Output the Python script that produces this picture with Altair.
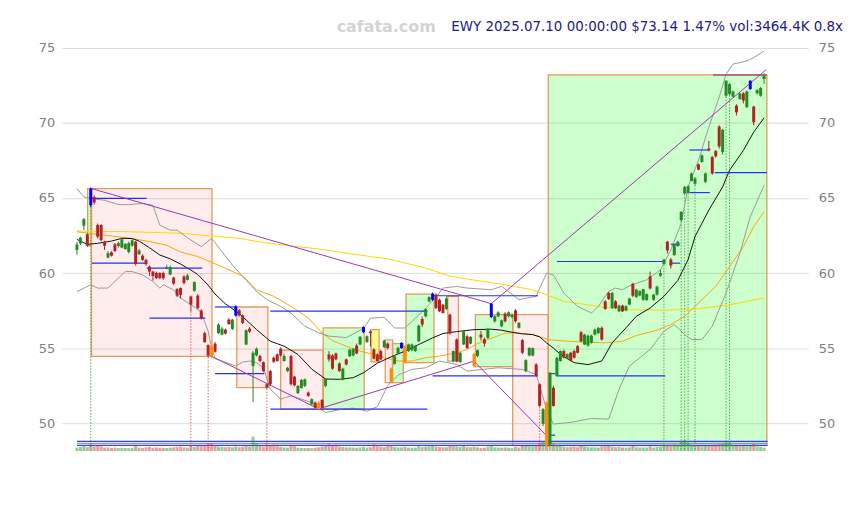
import altair as alt
import pandas as pd

# ---------------- data ----------------
opens = [
    61.54, 61.98, 63.15, 62.58, 64.52, 65.07, 63.20, 63.20, 62.09, 61.03,
    61.38, 61.91, 61.80, 61.70, 61.60, 61.40, 61.82, 62.09, 61.25, 61.16,
    60.88, 60.43, 60.10, 60.00, 60.00, 60.00, 60.30, 59.90, 59.70, 58.93,
    59.00, 59.77, 59.55, 58.44, 58.82, 58.50, 57.50, 56.00, 55.20, 55.13,
    55.30, 56.00, 55.90, 56.23, 56.90, 56.28, 57.17, 57.52, 57.17, 55.24,
    56.30, 53.81, 54.51, 54.47, 54.07, 52.59, 53.47, 54.36, 54.58, 54.96,
    54.14, 53.47, 54.47, 53.10, 52.00, 52.35, 52.48, 52.04, 51.26, 51.37,
    51.37, 51.55, 52.48, 54.58, 54.51, 54.64, 53.98, 52.90, 54.25, 54.47,
    54.51, 55.17, 55.24, 56.06, 55.40, 56.10, 54.91, 54.58, 54.80, 55.05,
    55.30, 53.65, 53.95, 54.64, 55.00, 55.13, 54.80, 54.86, 54.80, 55.46,
    56.94, 57.12, 58.11, 58.22, 58.56, 58.22, 57.89, 57.60, 57.23, 54.13,
    55.57, 54.07, 55.24, 55.79, 55.30, 54.60, 54.47, 55.90, 55.60, 55.68,
    57.07, 56.79, 57.12, 56.46, 57.30, 57.12, 57.07, 57.51, 56.35, 55.53,
    53.47, 54.51, 54.50, 53.91, 52.59, 49.95, 51.37, 48.60, 52.36, 53.14,
    54.14, 54.80, 54.30, 54.69, 54.80, 55.13, 56.06, 55.24, 55.17, 55.35,
    55.90, 56.00, 56.35, 58.11, 58.67, 57.67, 58.11, 57.45, 57.83, 57.50,
    57.90, 59.29, 58.40, 58.50, 58.22, 58.20, 59.77, 58.22, 58.56, 59.82,
    60.60, 62.09, 60.90, 61.20, 61.80, 63.53, 65.30, 65.34, 66.14, 65.95,
    67.24, 67.40, 66.07, 68.30, 67.73, 68.12, 69.76, 68.06, 71.82, 71.93,
    71.75, 71.16, 71.60, 71.97, 71.05, 72.26, 71.09, 71.97, 71.82, 72.93,
]
highs = [
    62.09, 62.42, 63.68, 62.65, 65.70, 65.18, 63.30, 63.25, 62.15, 61.45,
    61.45, 62.00, 62.10, 62.35, 62.00, 62.10, 62.25, 62.15, 61.60, 61.25,
    60.95, 60.50, 60.15, 60.10, 60.05, 60.10, 60.55, 60.50, 59.75, 59.00,
    59.05, 59.85, 59.95, 58.50, 59.45, 58.60, 57.60, 56.10, 55.25, 55.20,
    55.40, 56.65, 56.40, 56.30, 57.00, 56.95, 57.85, 57.60, 57.25, 56.25,
    56.40, 54.80, 55.05, 54.55, 54.10, 52.65, 53.55, 54.45, 54.65, 55.05,
    54.60, 53.75, 54.55, 53.15, 52.55, 52.95, 52.98, 52.10, 51.65, 51.45,
    51.45, 51.60, 53.00, 54.80, 54.60, 54.70, 54.05, 53.70, 54.30, 54.95,
    55.00, 55.30, 55.80, 56.45, 55.85, 56.20, 55.00, 54.65, 54.90, 55.55,
    55.40, 53.70, 54.50, 55.10, 55.40, 55.20, 55.30, 55.30, 55.20, 56.55,
    57.10, 57.65, 58.45, 58.70, 58.65, 58.30, 57.95, 58.45, 57.30, 54.85,
    55.65, 54.75, 56.20, 55.90, 55.80, 54.70, 54.90, 56.15, 55.70, 56.35,
    58.00, 57.20, 57.45, 56.90, 57.40, 57.45, 57.30, 57.60, 56.75, 55.60,
    54.25, 55.05, 55.05, 54.00, 52.65, 51.00, 51.45, 53.40, 52.50, 54.40,
    54.85, 54.90, 54.65, 54.75, 54.90, 55.20, 56.15, 55.95, 55.90, 55.90,
    56.30, 56.40, 56.45, 58.20, 58.75, 58.75, 58.20, 57.90, 57.90, 57.85,
    58.35, 59.35, 58.95, 58.85, 58.95, 58.65, 60.10, 58.60, 59.15, 60.20,
    60.95, 62.15, 61.00, 61.90, 62.15, 64.10, 65.80, 65.85, 66.70, 66.40,
    67.30, 67.90, 66.70, 68.80, 67.80, 68.20, 69.85, 69.60, 72.85, 72.65,
    72.15, 71.25, 72.00, 72.05, 72.15, 72.85, 71.15, 72.25, 72.40, 73.30,
]
lows = [
    61.21, 61.87, 62.86, 61.75, 64.40, 64.56, 62.30, 62.10, 61.54, 60.98,
    61.10, 61.40, 61.70, 61.65, 61.55, 61.30, 61.75, 60.50, 61.20, 60.80,
    60.50, 59.80, 59.50, 59.60, 59.60, 59.55, 60.25, 59.85, 59.20, 58.40,
    58.30, 59.25, 59.50, 57.45, 58.75, 57.60, 56.90, 55.35, 54.40, 54.35,
    54.70, 55.95, 55.85, 55.90, 56.55, 56.20, 57.10, 57.10, 56.60, 55.20,
    56.00, 51.40, 54.45, 54.05, 53.40, 52.30, 52.50, 54.00, 54.10, 54.45,
    54.10, 53.40, 52.50, 52.45, 51.95, 52.30, 52.40, 51.75, 51.20, 51.00,
    50.85, 50.98, 52.40, 54.10, 53.55, 54.20, 53.40, 52.85, 53.85, 54.40,
    54.45, 54.60, 55.20, 56.00, 55.35, 55.10, 54.25, 54.10, 54.20, 55.00,
    54.90, 52.70, 53.90, 54.60, 54.95, 53.95, 54.75, 54.80, 54.75, 55.40,
    56.40, 57.05, 58.05, 58.15, 57.60, 57.40, 57.30, 57.55, 55.90, 54.05,
    54.05, 54.00, 55.20, 54.95, 55.25, 53.70, 54.40, 55.50, 55.10, 55.60,
    57.00, 56.70, 57.05, 56.40, 56.70, 57.05, 57.00, 56.70, 56.30, 54.60,
    53.40, 54.45, 54.45, 53.10, 51.10, 49.80, 48.40, 48.50, 51.10, 53.10,
    54.10, 54.30, 54.25, 54.10, 54.30, 54.65, 55.40, 55.20, 55.10, 55.30,
    55.85, 55.95, 55.50, 57.55, 58.20, 57.60, 57.60, 57.40, 57.40, 57.45,
    57.85, 58.40, 58.35, 58.45, 58.15, 58.15, 58.90, 58.15, 58.50, 59.75,
    60.55, 61.30, 60.30, 61.15, 61.75, 63.45, 65.25, 65.30, 66.10, 65.85,
    66.85, 67.35, 66.00, 68.10, 66.55, 67.70, 68.30, 67.90, 71.75, 71.85,
    71.70, 70.50, 71.55, 71.30, 71.00, 72.20, 69.85, 71.90, 71.75, 72.60,
]
closes = [
    61.91, 62.35, 63.59, 61.82, 65.63, 64.70, 62.42, 62.20, 61.82, 61.32,
    61.16, 61.47, 62.00, 62.25, 61.93, 62.00, 62.18, 60.60, 61.50, 60.88,
    60.59, 60.10, 59.80, 59.66, 59.66, 59.66, 60.40, 60.40, 59.30, 58.50,
    58.55, 59.33, 59.84, 57.89, 59.40, 57.67, 56.97, 55.40, 54.50, 54.45,
    54.76, 56.56, 56.30, 55.97, 56.60, 56.90, 57.78, 57.17, 56.68, 56.19,
    56.10, 54.69, 54.96, 54.14, 53.47, 52.37, 52.59, 54.09, 54.14, 54.51,
    54.47, 53.69, 52.59, 52.52, 52.48, 52.88, 52.92, 51.82, 51.60, 51.04,
    50.93, 51.04, 52.96, 54.25, 53.63, 54.25, 53.47, 53.63, 53.91, 54.90,
    54.95, 54.64, 55.75, 56.41, 55.79, 56.00, 54.29, 54.14, 54.25, 55.50,
    55.00, 52.75, 54.45, 55.02, 55.35, 54.03, 55.24, 55.24, 55.13, 56.50,
    56.57, 57.60, 58.40, 58.62, 57.67, 57.45, 57.34, 58.30, 55.97, 54.80,
    54.13, 54.69, 56.12, 55.00, 55.75, 53.80, 54.86, 55.70, 55.30, 56.28,
    57.96, 57.12, 57.38, 56.85, 56.79, 57.38, 57.23, 56.79, 56.68, 54.69,
    54.20, 55.02, 55.00, 53.14, 51.15, 50.93, 48.50, 53.36, 51.15, 54.36,
    54.80, 54.36, 54.60, 54.14, 54.36, 54.69, 55.46, 55.90, 55.83, 55.83,
    56.24, 56.35, 55.57, 57.61, 58.27, 58.67, 57.67, 57.83, 57.45, 57.80,
    58.30, 58.49, 58.90, 58.80, 58.93, 58.60, 58.98, 58.56, 59.10, 60.00,
    60.90, 61.50, 60.50, 61.87, 62.09, 64.08, 65.74, 65.78, 66.63, 66.30,
    66.89, 67.84, 66.63, 68.20, 66.63, 67.78, 68.44, 69.54, 72.81, 72.59,
    72.10, 70.71, 71.97, 71.49, 72.10, 72.81, 70.05, 72.19, 72.33, 73.14,
]
volumes_k = [
    3500, 4200, 5800, 4000, 7000, 4500, 5200, 4800, 3600, 3800,
    3200, 3500, 3000, 3300, 3100, 2900, 3400, 5200, 3600, 3300,
    3800, 4200, 3500, 3700, 3400, 3300, 3100, 3600, 3900, 4300,
    4600, 3800, 3500, 5800, 4200, 5200, 4800, 6200, 6800, 7500,
    6000, 4500, 4200, 3900, 4100, 3800, 4500, 4000, 4400, 5500,
    4800, 14700, 8000, 5200, 4600, 7000, 5800, 6500, 4900, 4200,
    3800, 3600, 5500, 4800, 3500, 3200, 3100, 3300, 3000, 3400,
    3800, 4600, 5600, 7200, 5300, 6800, 4500, 4100, 3700, 3900,
    3600, 3400, 3800, 4200, 3500, 3900, 7000, 4800, 4400, 4000,
    6500, 5200, 4100, 3800, 3700, 4300, 3500, 3400, 3600, 5000,
    4200, 4600, 4800, 5200, 4500, 4200, 3900, 4000, 5800, 5000,
    4600, 4300, 5200, 4100, 3900, 4400, 3800, 3300, 3500, 4600,
    5200, 3800, 3600, 3400, 3700, 3500, 3300, 4200, 3600, 5600,
    5200, 4800, 4600, 5500, 8200, 9500, 10500, 11000, 7500, 6200,
    5000, 4200, 3800, 4100, 4300, 3900, 5200, 4400, 4000, 3700,
    3800, 3500, 4600, 4800, 5600, 4200, 3900, 4100, 3600, 3400,
    3800, 5200, 3900, 3600, 3700, 3500, 4800, 3600, 4200, 4400,
    6200, 5800, 4800, 6600, 5400, 10200, 11000, 8200, 6400, 5200,
    5600, 4800, 5200, 6000, 4900, 5100, 6800, 7800, 9000, 8400,
    6200, 5400, 4800, 5000, 4600, 5800, 7200, 4500, 4200, 3464.4,
]
pivot_high_idx = [4, 46, 83, 94, 103, 120, 195]
pivot_low_idx = [39, 70, 91, 95, 115, 136]

month_tick_idx = [7, 30, 50, 71, 91, 110, 131, 152, 173, 193]
month_tick_labels = ["10", "11", "12", "1", "2", "3", "4", "5", "6", "7"]
y_ticks = [50, 55, 60, 65, 70, 75]

ma20_idx = [0, 3, 6, 10, 13, 16, 18, 21, 24, 27, 30, 33, 35, 38, 40, 43, 47, 52, 56, 60,
            64, 68, 72, 76, 80, 83, 87, 91, 95, 99, 103, 106, 110, 115, 120, 123, 126, 129, 132, 134,
            136, 138, 140, 142, 144, 148, 152, 155, 159, 162, 166, 170, 174, 177, 179, 183, 187, 189, 193, 196, 199]
ma20_val = [62.24, 61.91, 61.98, 62.13, 62.31, 62.30, 62.13, 61.69, 61.20, 60.95, 60.60, 60.20, 59.90, 59.20, 58.60, 57.95, 57.30, 56.24, 55.46, 55.13,
            54.58, 53.60, 52.94, 52.92, 53.03, 53.36, 54.00, 54.42, 54.80, 55.24, 55.68, 55.97, 56.10, 56.23, 56.26, 56.19, 56.06, 55.95, 55.90, 55.75,
            55.35, 55.00, 54.60, 54.30, 54.03, 53.90, 54.14, 55.35, 56.35, 57.12, 57.67, 58.45, 59.50, 60.90, 62.43, 64.19, 65.74, 66.85, 68.17, 69.39, 70.34]
ma50_idx = [0, 6, 16, 21, 26, 30, 35, 43, 48, 52, 57, 62, 67, 71, 74, 78, 82, 86, 89, 93,
            97, 101, 105, 110, 113, 116, 119, 124, 128, 132, 137, 142, 147, 153, 158, 162, 168, 172, 176, 179,
            185, 189, 193, 196, 199]
ma50_val = [62.75, 62.58, 62.30, 62.10, 61.85, 61.40, 61.10, 60.32, 59.80, 58.89, 58.45, 57.78, 57.01, 56.00, 55.50, 55.13, 54.80, 54.58, 54.36, 54.14,
            54.14, 54.36, 54.47, 54.69, 54.91, 55.30, 55.57, 56.00, 56.00, 55.90, 55.55, 55.46, 55.40, 55.35, 55.46, 55.84, 56.19, 56.57, 57.12, 57.78,
            59.11, 60.43, 61.76, 63.09, 64.08]
ma200_idx = [0, 16, 30, 47, 55, 70, 85, 90, 100, 108, 113, 122, 132, 141, 151, 160, 170, 179, 189, 199]
ma200_val = [62.80, 62.75, 62.65, 62.31, 62.00, 61.60, 61.10, 60.95, 60.40, 59.80, 59.60, 59.29, 58.89, 58.12, 57.78, 57.56, 57.52, 57.60, 57.89, 58.34]
bbu_idx = [0, 2, 4, 8, 12, 15, 19, 22, 24, 27, 29, 32, 36, 39, 42, 45, 48, 52, 55, 59,
           62, 66, 70, 73, 78, 83, 85, 89, 92, 95, 99, 102, 104, 106, 110, 113, 120, 123, 128, 133,
           136, 138, 141, 145, 149, 151, 154, 156, 158, 160, 165, 169, 172, 175, 177, 180, 183, 186, 188, 190,
           194, 196, 199]
bbu_val = [65.63, 65.07, 64.96, 64.85, 64.56, 64.56, 64.63, 64.52, 63.19, 62.86, 62.86, 62.35, 61.76, 62.31, 61.43, 60.54, 59.77, 58.78, 58.23, 57.78,
           57.34, 56.46, 56.02, 55.80, 55.70, 56.30, 57.00, 57.05, 56.34, 56.34, 57.20, 57.90, 58.40, 59.00, 59.11, 59.00, 58.89, 59.11, 58.23, 58.45,
           59.99, 59.88, 58.67, 57.78, 57.34, 57.78, 58.78, 59.00, 58.89, 59.15, 59.55, 60.21, 61.54, 63.31, 65.74, 67.51, 69.72, 71.71, 73.26, 73.92,
           74.13, 74.35, 74.80]
bbl_idx = [0, 4, 6, 9, 12, 14, 16, 19, 22, 24, 25, 28, 30, 33, 36, 38, 39, 40, 42, 46,
           48, 50, 52, 54, 56, 59, 62, 65, 68, 70, 72, 76, 80, 84, 87, 90, 93, 97, 101, 105,
           110, 113, 122, 129, 133, 136, 138, 143, 149, 154, 157, 160, 166, 170, 173, 176, 178, 181, 184, 188,
           192, 195, 199]
bbl_val = [58.77, 59.22, 59.00, 59.00, 59.66, 60.10, 60.10, 59.88, 59.44, 59.00, 59.22, 58.88, 58.33, 57.90, 57.40, 56.12, 55.02, 54.30, 54.14, 53.80,
           54.07, 54.14, 54.03, 53.70, 52.26, 51.60, 51.82, 51.60, 51.37, 51.04, 50.71, 50.90, 51.00, 50.80, 51.10, 52.50, 53.20, 53.58, 53.69, 54.14,
           53.91, 53.47, 53.69, 53.58, 53.25, 50.93, 49.94, 50.05, 50.31, 50.27, 52.26, 53.80, 54.91, 56.12, 56.57, 55.90, 55.57, 55.57, 56.46, 58.67,
           61.32, 63.75, 65.85]

box_x1 = [3.1, 4.2, 46.3, 59.0, 71.3, 85.2, 89.3, 91.4, 95.3, 107.4, 115.4, 126.2, 136.5]
box_x2 = [4.2, 39.1, 55.3, 71.3, 83.2, 87.5, 91.4, 94.5, 103.4, 110.5, 126.2, 136.5, 199.8]
box_y1 = [61.82, 65.63, 57.74, 54.86, 50.93, 56.23, 55.55, 52.70, 54.03, 58.44, 53.76, 57.23, 48.50]
box_y2 = [65.63, 54.45, 52.37, 50.93, 56.35, 54.08, 52.70, 55.30, 58.60, 54.13, 57.23, 48.50, 73.20]
box_kind = ["up", "down", "down", "down", "up", "flat", "down", "up", "up", "down", "up", "down", "up"]

level_x1 = [4.3, 4.3, 20.2, 21.0, 40.0, 40.0, 56.0, 56.0, 103.0, 103.0, 137.0, 137.0, 139.0, 139.0, 172.0, 172.0, 177.4, 177.4, 184.7]
level_x2 = [20.2, 20.2, 36.3, 37.2, 46.2, 54.3, 101.5, 101.5, 133.5, 133.5, 138.5, 138.5, 170.4, 170.4, 174.7, 174.7, 183.3, 183.3, 199.8]
level_y = [64.97, 60.66, 60.33, 57.00, 57.74, 53.30, 57.47, 50.93, 58.49, 53.15, 53.30, 49.20, 53.15, 60.77, 61.92, 60.66, 65.36, 68.20, 66.69]
top_level = {"x1": 184.2, "x2": 199.8, "y": 73.20}

trend_x1 = [4.2, 39.0, 70.0, 115.0, 120.0]
trend_y1 = [65.63, 54.45, 50.95, 54.13, 57.96]
trend_x2 = [120.0, 70.0, 115.0, 136.5, 199.6]
trend_y2 = [57.96, 50.95, 54.13, 49.05, 73.55]

signal_up_idx = [4, 170, 175, 176, 177, 179, 188, 189]
signal_down_idx = [33, 38, 55, 134]

vol_base = 48.14
vol_ref_blue = [48.79, 48.52]
vol_ref_gray = [48.65]

TITLE = "EWY 2025.07.10 00:00:00 $73.14 1.47% vol:3464.4K 0.8x"
WATERMARK = "cafata.com"

# ---------------- tables ----------------
n = min(len(opens), len(highs), len(lows), len(closes), len(volumes_k))
idx = list(range(n))
hi_set, lo_set = set(pivot_high_idx), set(pivot_low_idx)
kind, direction = [], []
for k in idx:
    d = "up" if closes[k] >= opens[k] else "down"
    direction.append(d)
    kind.append("hi" if k in hi_set else ("lo" if k in lo_set else d))
candles = pd.DataFrame({"i": idx, "o": opens[:n], "h": highs[:n], "l": lows[:n],
                        "c": closes[:n], "v": volumes_k[:n], "kind": kind, "dir": direction})

lines_rows = []
for name, xs_, vs_ in [("ma200", ma200_idx, ma200_val), ("ma50", ma50_idx, ma50_val),
                       ("bbu", bbu_idx, bbu_val), ("bbl", bbl_idx, bbl_val),
                       ("ma20", ma20_idx, ma20_val)]:
    for a, b in zip(xs_, vs_):
        lines_rows.append({"s": name, "i": a, "v": b})
lines_df = pd.DataFrame(lines_rows)

boxes = pd.DataFrame({"x1": box_x1, "x2": box_x2, "y1": box_y1, "y2": box_y2, "kind": box_kind})
levels = pd.DataFrame({"x1": level_x1, "x2": level_x2, "y": level_y})
trends = pd.DataFrame({"x1": trend_x1, "y1": trend_y1, "x2": trend_x2, "y2": trend_y2})
sig_rows = [{"i": k, "top": lows[k], "bot": vol_base, "t": "up"} for k in signal_up_idx] + \
           [{"i": k, "top": lows[k], "bot": vol_base, "t": "down"} for k in signal_down_idx]
signals = pd.DataFrame(sig_rows)
volref = pd.DataFrame({"y": vol_ref_blue + vol_ref_gray,
                       "t": ["b"] * len(vol_ref_blue) + ["g"] * len(vol_ref_gray),
                       "x1": [0] * 3, "x2": [n] * 3})

# ---------------- scales / axes ----------------
xs = alt.Scale(domain=[-2.96, 210.35], nice=False, zero=False)
ys = alt.Scale(domain=[47.08, 77.45], nice=False, zero=False)

label_expr = ""
for v, lab in zip(month_tick_idx, month_tick_labels):
    label_expr += f"datum.value == {v} ? '{lab}' : "
label_expr += "''"

x_axis = alt.Axis(values=month_tick_idx, labelExpr=label_expr, grid=True, gridColor="#dddddd",
                  domain=False, ticks=True, tickColor="#333333", tickSize=5, offset=5,
                  labelColor="#808080", labelFontSize=13, labelFont="DejaVu Sans",
                  labelPadding=3, title=None)
y_left = alt.Axis(values=y_ticks, grid=True, gridColor="#dddddd", domain=False, ticks=False,
                  labelColor="#808080", labelFontSize=13, labelFont="DejaVu Sans",
                  labelPadding=7, title=None, orient="left")
y_right = alt.Axis(values=y_ticks, grid=False, domain=False, ticks=False,
                   labelColor="#808080", labelFontSize=13, labelFont="DejaVu Sans",
                   labelPadding=10, title=None, orient="right")

# ---------------- layers (fixed colours per mark, no shared colour scale) ----------------
def candle_layers(df_part, color):
    wick = alt.Chart(df_part).mark_rule(strokeWidth=1, color=color).encode(
        x=alt.X("i:Q", scale=xs, axis=None),
        y=alt.Y("l:Q", scale=ys, axis=None), y2="h:Q",
    )
    body = alt.Chart(df_part).mark_bar(size=3, color=color).encode(
        x=alt.X("i:Q", scale=xs, axis=None),
        y=alt.Y("o:Q", scale=ys, axis=None), y2="c:Q",
    )
    return [wick, body]

box_fill = {"up": ("#00ff00", 0.2), "down": ("#ff0000", 0.07), "flat": ("#ffff00", 0.45)}
box_layers = []
first = True
for k, (col, op) in box_fill.items():
    part = boxes[boxes["kind"] == k]
    box_layers.append(
        alt.Chart(part).mark_rect(fill=col, fillOpacity=op, stroke="#e39a5a", strokeWidth=1.3).encode(
            x=alt.X("x1:Q", scale=xs, axis=x_axis if first else None), x2="x2:Q",
            y=alt.Y("y1:Q", scale=ys, axis=y_left if first else None), y2="y2:Q",
        )
    )
    first = False

volref_layers = [
    alt.Chart(volref[volref["t"] == "b"]).mark_rule(strokeWidth=1.2, color="#3344ee").encode(
        x=alt.X("x1:Q", scale=xs, axis=None), x2="x2:Q", y=alt.Y("y:Q", scale=ys, axis=None)),
    alt.Chart(volref[volref["t"] == "g"]).mark_rule(strokeWidth=1.2, color="#999999").encode(
        x=alt.X("x1:Q", scale=xs, axis=None), x2="x2:Q", y=alt.Y("y:Q", scale=ys, axis=None)),
]

vol_layers = []
for d, col in [("up", "#2e9b2e"), ("down", "#cc4444")]:
    vol_layers.append(
        alt.Chart(candles[candles["dir"] == d]).transform_calculate(
            vb=f"{vol_base}", vt=f"{vol_base} + datum.v * 0.000066"
        ).mark_bar(size=3, opacity=0.5, color=col).encode(
            x=alt.X("i:Q", scale=xs, axis=None),
            y=alt.Y("vb:Q", scale=ys, axis=None), y2="vt:Q",
        )
    )

sig_layers = []
for t, col in [("up", "#3a9a3a"), ("down", "#d24a4a")]:
    sig_layers.append(
        alt.Chart(signals[signals["t"] == t]).mark_rule(strokeDash=[1.5, 1.5], strokeWidth=1,
                                                        opacity=0.85, color=col).encode(
            x=alt.X("i:Q", scale=xs, axis=None),
            y=alt.Y("top:Q", scale=ys, axis=None), y2="bot:Q",
        )
    )

line_colors = {"ma200": "#ffd700", "ma50": "#ffa500", "bbu": "#999999", "bbl": "#999999", "ma20": "#111111"}
line_layers = []
for s, col in line_colors.items():
    line_layers.append(
        alt.Chart(lines_df[lines_df["s"] == s]).mark_line(strokeWidth=1, color=col).encode(
            x=alt.X("i:Q", scale=xs, axis=None),
            y=alt.Y("v:Q", scale=ys, axis=None),
        )
    )

level_layer = alt.Chart(levels).mark_rule(color="#2233ee", strokeWidth=1.2).encode(
    x=alt.X("x1:Q", scale=xs, axis=None), x2="x2:Q",
    y=alt.Y("y:Q", scale=ys, axis=None),
)
top_layer = alt.Chart(pd.DataFrame([top_level])).mark_rule(color="#a05a78", strokeWidth=1.5).encode(
    x=alt.X("x1:Q", scale=xs, axis=None), x2="x2:Q",
    y=alt.Y("y:Q", scale=ys, axis=None),
)
trend_layer = alt.Chart(trends).mark_rule(color="#a035b0", strokeWidth=1).encode(
    x=alt.X("x1:Q", scale=xs, axis=None), x2="x2:Q",
    y=alt.Y("y1:Q", scale=ys, axis=None), y2="y2:Q",
)

candle_color = {"up": "#228b22", "down": "#b22222", "hi": "#0000ff", "lo": "#ff8c00"}
candle_lyrs = []
for k, col in candle_color.items():
    candle_lyrs += candle_layers(candles[candles["kind"] == k], col)

right_axis_layer = alt.Chart(candles).mark_point(opacity=0).encode(
    x=alt.X("i:Q", scale=xs, axis=None),
    y=alt.Y("c:Q", scale=ys, axis=y_right),
)

one = pd.DataFrame({"a": [0]})
title_layer = alt.Chart(one).mark_text(
    text=TITLE, align="right", baseline="middle", fontSize=13.5, font="DejaVu Sans", color="#1a1a8c"
).encode(x=alt.value(785), y=alt.value(16))
wm_layer = alt.Chart(one).mark_text(
    text=WATERMARK, align="center", baseline="middle", fontSize=16, fontWeight="bold",
    font="DejaVu Sans", color="#d3d3d3"
).encode(x=alt.value(326), y=alt.value(16))

all_layers = (box_layers + volref_layers + vol_layers + sig_layers + line_layers +
              [level_layer, top_layer, trend_layer] + candle_lyrs +
              [right_axis_layer, wm_layer, title_layer])

chart = alt.layer(*all_layers).resolve_axis(y="independent").properties(
    width=750, height=458,
    background="white",
    autosize=alt.AutoSizeParams(type="none"),
    padding={"left": 54, "top": 2, "right": 50, "bottom": 28},
).configure_view(strokeWidth=0, stroke=None).configure_axis(domain=False)

chart.save("out.html", embed_options={"renderer": "svg", "actions": False})
